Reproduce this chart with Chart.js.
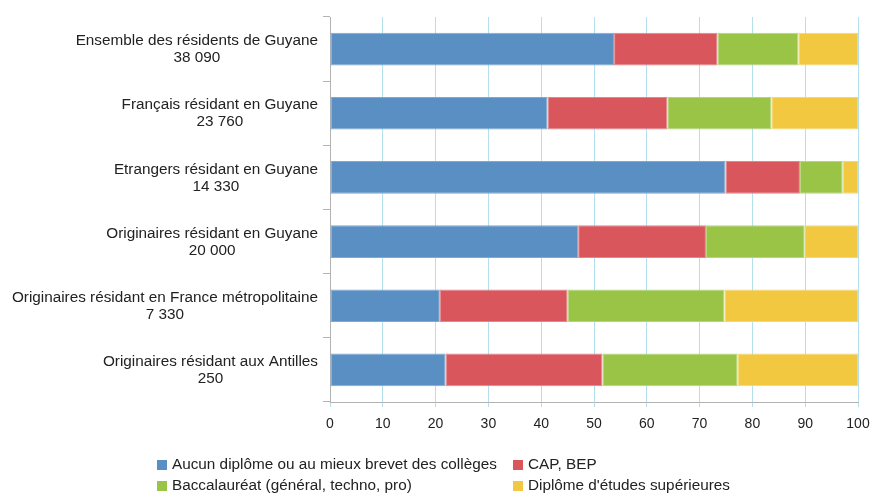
<!DOCTYPE html>
<html>
<head>
<meta charset="utf-8">
<script src="https://cdn.jsdelivr.net/npm/chart.js@4/dist/chart.umd.min.js"></script>
<style>
  html, body { margin: 0; padding: 0; background: #fff; }
  #wrap { width: 871px; height: 494px; position: relative; }
</style>
</head>
<body>
<div id="wrap"><canvas id="canvasId"></canvas></div>
<script>
const categories = [
    'Ensemble des résidents de Guyane',
    'Français résidant en Guyane',
    'Etrangers résidant en Guyane',
    'Originaires résidant en Guyane',
    'Originaires résidant en France métropolitaine',
    'Originaires résidant aux Antilles'
];
const counts = ['38 090', '23 760', '14 330', '20 000', '7 330', '250'];

const seriesNames = [
    'Aucun diplôme ou au mieux brevet des collèges',
    'CAP, BEP',
    'Baccalauréat (général, techno, pro)',
    "Diplôme d'études supérieures"
];
const aucun = [53.8, 41.2, 74.9, 47.0, 20.8, 21.9];
const cap = [19.6, 22.7, 14.1, 24.2, 24.2, 29.7];
const bac = [15.3, 19.7, 8.1, 18.7, 29.7, 25.6];
const sup = [11.3, 16.4, 2.9, 10.1, 25.3, 22.8];

const xTicks = [0, 10, 20, 30, 40, 50, 60, 70, 80, 90, 100];

const colors = ['#598fc2', '#d8565c', '#99c446', '#f1c83f'];
const borders = ['#7fa9d2', '#e48589', '#b5d57a', '#f5d873'];
const FONT = '"Liberation Sans", Arial, sans-serif';

// two-line labels, each block centred on itself and right aligned to the axis
const yLabels = {
    id: 'yLabels',
    afterDraw(chart) {
        const ctx = chart.ctx;
        const y = chart.scales.y;
        ctx.save();
        ctx.font = '15.3px ' + FONT;
        ctx.fillStyle = '#222';
        ctx.textAlign = 'center';
        ctx.textBaseline = 'middle';
        categories.forEach((cat, i) => {
            const py = y.getPixelForValue(i);
            const w = Math.max(ctx.measureText(cat).width, ctx.measureText(counts[i]).width);
            const cx = 318 - w / 2;
            ctx.fillText(cat, cx, py - 8);
            ctx.fillText(counts[i], cx, py + 9);
        });
        ctx.restore();
    }
};

// legend in two aligned columns
const gridLegend = {
    id: 'gridLegend',
    afterDraw(chart) {
        const ctx = chart.ctx;
        const cols = [157, 513];
        const rows = [465, 486];
        ctx.save();
        ctx.font = '15.3px ' + FONT;
        ctx.textBaseline = 'middle';
        ctx.textAlign = 'left';
        chart.data.datasets.forEach((ds, i) => {
            const x = cols[i % 2];
            const yy = rows[Math.floor(i / 2)];
            ctx.fillStyle = ds.backgroundColor;
            ctx.fillRect(x, yy - 5, 10, 10);
            ctx.fillStyle = '#222';
            ctx.fillText(ds.label, x + 15, yy);
        });
        ctx.restore();
    }
};

const series = [aucun, cap, bac, sup];

const config = {
    type: 'bar',
    data: {
        labels: categories,
        datasets: series.map((d, i) => ({
            label: seriesNames[i],
            data: d,
            backgroundColor: colors[i],
            borderColor: borders[i],
            borderWidth: 1,
            borderSkipped: false,
            barPercentage: 0.51,
            categoryPercentage: 1,
        })),
    },
    options: {
        indexAxis: 'y',
        responsive: true,
        maintainAspectRatio: false,
        animation: false,
        layout: {
            padding: { top: 17, right: 13, bottom: 62, left: 0 }
        },
        scales: {
            x: {
                stacked: true,
                min: 0,
                max: 100,
                afterBuildTicks: s => { s.ticks = xTicks.map(v => ({ value: v })); },
                afterFit: s => { s.height = 30; s.paddingRight = 0; s.paddingLeft = 0; },
                grid: {
                    color: '#b4e0ee',
                    tickLength: 5,
                    tickColor: '#b4e0ee',
                },
                border: { color: '#b3b3b3' },
                ticks: {
                    color: '#222',
                    padding: 9,
                    font: { family: FONT, size: 14 },
                    maxRotation: 0,
                },
            },
            y: {
                stacked: true,
                afterFit: s => { s.width = 330; },
                grid: {
                    drawOnChartArea: false,
                    tickLength: 7,
                    color: '#b3b3b3',
                },
                border: { color: '#b3b3b3' },
                ticks: { display: false },
            },
        },
        plugins: {
            legend: { display: false },
            tooltip: { enabled: false },
        },
    },
    plugins: [yLabels, gridLegend],
};

const chart = new Chart(document.querySelector('#canvasId'), config);
</script>
</body>
</html>
